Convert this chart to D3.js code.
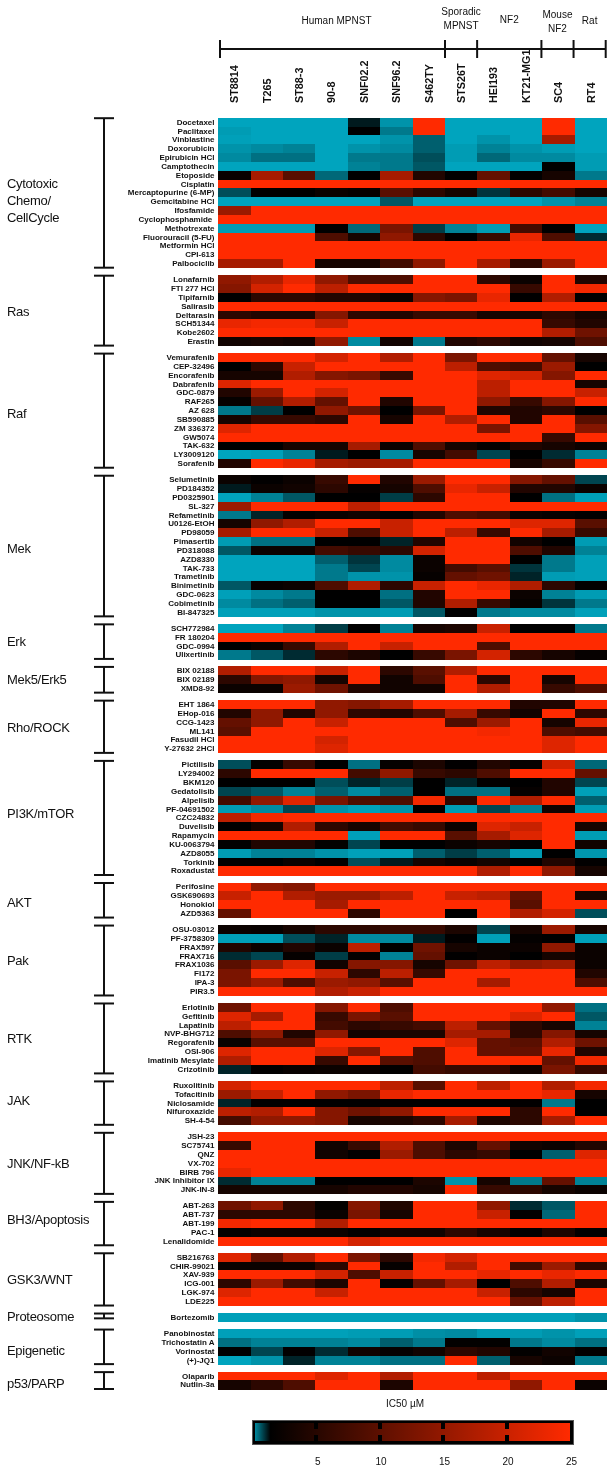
<!DOCTYPE html>
<html>
<head>
<meta charset="utf-8">
<script src="https://cdn.jsdelivr.net/npm/d3@7"></script>
<style>
    html, body { margin: 0; padding: 0; background: #fff; }
    svg { display: block; filter: blur(0.4px); }
    rect { shape-rendering: crispEdges; }
    text { font-family: "Liberation Sans", Arial, sans-serif; fill: #111; }
    .drug text { font-size: 8px; font-weight: bold; white-space: pre; }
    .line text { font-size: 10.8px; font-weight: bold; }
</style>
</head>
<body>
<svg id="chart" width="610" height="1471"></svg>
<script>
const cellLines = ["ST8814", "T265", "ST88-3", "90-8", "SNF02.2", "SNF96.2", "S462TY", "STS26T", "HEI193", "KT21-MG1", "SC4", "RT4"]
const lineages = [["Human MPNST"], ["Sporadic", "MPNST"], ["NF2"], ["Mouse", "NF2"], ["Rat"]]
const lineageSpans = [7, 1, 2, 1, 1]
const legendTicks = [5, 10, 15, 20, 25]

const cytotoxicDrugs = ["Docetaxel", "Paclitaxel", "Vinblastine", "Doxorubicin", "Epirubicin HCl", "Camptothecin", "Etoposide", "Cisplatin", "Mercaptopurine (6-MP)", "Gemcitabine HCl", "Ifosfamide", "Cyclophosphamide ", "Methotrexate", "Fluorouracil (5-FU)", "Metformin HCl", "CPI-613", "Palbociclib"]
const cytotoxicValues = [
    [.1, .1, .1, .1, 1.7, .3, 25, .1, .1, .1, 25, .1],
    [.2, .1, .1, .1, 2, .6, 25, .1, .1, .1, 25, .1],
    [.15, .1, .1, .1, .1, .3, .9, .1, .3, .1, 17, .1],
    [.3, .4, .5, .1, .3, .4, .9, .2, .5, .3, .2, .1],
    [.4, .7, .7, .1, .6, .6, 1.1, .2, .8, .4, .4, .2],
    [.1, .1, .1, .1, .5, .6, 1, .1, .1, .1, 2, .2],
    [2.8, 17, 10, .8, 2, 17, 5, 2.2, 11, 2.2, 4, .6],
    [25, 25, 25, 25, 25, 25, 25, 25, 25, 25, 25, 25],
    [1.1, 2, 2, 3, 2.5, 10, 6, 4, 1.4, 6, 8, 4],
    [.1, .1, .1, .1, .1, 1, .1, .1, .1, .1, .3, .5],
    [16, 25, 25, 25, 25, 25, 25, 25, 25, 25, 25, 25],
    [25, 25, 25, 25, 25, 25, 25, 25, 25, 25, 25, 25],
    [.2, .2, .2, 2, .8, 13, 1.3, .5, .2, 8, 2, .1],
    [25, 25, 25, 9, 4, 15, 6, 2, 7, 23, 9, 1.5],
    [25, 25, 25, 25, 25, 25, 25, 25, 25, 25, 25, 25],
    [25, 25, 25, 25, 25, 25, 25, 25, 25, 25, 25, 25],
    [17, 17, 25, 4, 4, 8, 15, 25, 17, 6, 16, 25],
]

const rasDrugs = ["Lonafarnib", "FTI 277 HCl", "Tipifarnib", "Salirasib", "Deltarasin", "SCH51344", "Kobe2602", "Erastin"]
const rasValues = [
    [15, 18, 23, 15, 9, 9, 25, 25, 6, 3, 25, 5],
    [14, 21, 25, 19, 25, 25, 25, 25, 25, 7, 25, 24],
    [2, 6, 6, 5, 5, 3, 14, 13, 23, 2, 18, 2],
    [25, 25, 25, 25, 25, 25, 25, 25, 25, 25, 25, 25],
    [6, 5, 5, 14, 6, 5, 7, 7, 4, 4, 6, 4],
    [23, 24, 24, 20, 25, 25, 25, 25, 25, 25, 7, 5],
    [25, 25, 25, 25, 25, 25, 25, 25, 25, 25, 18, 12],
    [3.5, 4, 3.5, 15, .4, 3.5, .6, 5, 6, 3.5, 4, 9],
]

const rafDrugs = ["Vemurafenib", "CEP-32496", "Encorafenib", "Dabrafenib", "GDC-0879", "RAF265", "AZ 628", "SB590885", "ZM 336372", "GW5074", "TAK-632", "LY3009120", "Sorafenib"]
const rafValues = [
    [25, 25, 25, 21, 25, 18, 25, 13, 25, 25, 11, 4],
    [2, 6, 20, 25, 25, 25, 25, 19, 9, 8, 16, 2],
    [4, 4, 18, 14, 13, 7, 25, 25, 22, 21, 14, 25],
    [22, 25, 25, 25, 25, 25, 25, 25, 19, 25, 25, 4],
    [5, 16, 25, 21, 25, 25, 25, 25, 19, 25, 25, 20],
    [2.5, 11, 18, 11, 25, 5, 25, 25, 15, 7, 14, 25],
    [.6, 1.3, 2, 15, 12, 2, 13, 25, 5, 5, 6, 2],
    [4, 7, 7, 6, 25, 4, 25, 18, 25, 5, 25, 10],
    [22, 25, 25, 25, 25, 25, 25, 25, 13, 25, 25, 14],
    [25, 25, 25, 25, 25, 25, 25, 25, 25, 25, 7, 25],
    [2, 2, 4, 4, 17, 3, 9, 4, 2.5, 5, 4, 3],
    [.1, .15, .5, 1.7, 2, .4, 4, 8, 1.2, 2, 1.5, .5],
    [5, 25, 23, 17, 16, 17, 25, 25, 25, 4, 7, 25],
]

const mekDrugs = ["Selumetinib", "PD184352", "PD0325901", "SL-327", "Refametinib", "U0126-EtOH", "PD98059", "Pimasertib", "PD318088", "AZD8330", "TAK-733", "Trametinib", "Binimetinib", "GDC-0623", "Cobimetinib", "BI-847325"]
const mekValues = [
    [3, 2.2, 3, 7, 25, 5, 16, 25, 25, 14, 11, 1.2],
    [1.7, 3, 3.5, 6, 2.5, 4, 9, 23, 20, 5, 5, 3],
    [.1, .5, 1, 2, 2, 1.3, 6, 25, 25, 2, .7, .15],
    [16, 25, 25, 25, 19, 25, 25, 25, 25, 25, 25, 25],
    [.6, 1.6, 2.3, 3, 3.5, 2.2, 5, 9, 8, 3, 2.5, 2.2],
    [4, 15, 18, 25, 25, 20, 25, 25, 25, 22, 22, 10],
    [17, 25, 25, 20, 9, 20, 25, 19, 7, 25, 17, 7],
    [.2, .7, .7, 2, 2, 1.6, 5, 25, 25, 3.5, 2, .2],
    [1, 3, 3, 8, 7, 6, 21, 25, 25, 9, 5, .5],
    [.1, .1, .1, .9, 1.4, .4, 3, 25, 25, 2, .6, .15],
    [.1, .1, .1, .6, 1.2, .4, 3, 8, 10, 1.4, .6, .15],
    [.1, .1, .1, .6, .3, .3, 2.5, 11, 12, 1.6, .2, .15],
    [1, 2.5, 3, 9, 18, 6, 20, 25, 23, 18, 6, 2.2],
    [.15, .4, .6, 2, 2, .7, 5, 25, 25, 3, .5, .2],
    [.4, .7, .9, 2, 2, 1, 5, 18, 7, 2.5, 1.4, .6],
    [.15, .15, .15, .3, .3, .2, 1, 2, .6, .4, .4, .15],
]

const erkDrugs = ["SCH772984", "FR 180204", "GDC-0994", "Ulixertinib"]
const erkValues = [
    [.1, .1, .5, 1.3, 2, .5, 4, 4.5, 20, 2, 2, .6],
    [25, 25, 25, 25, 25, 25, 25, 25, 25, 25, 25, 25],
    [2, 3, 7, 18, 25, 20, 25, 25, 9, 25, 25, 25],
    [.6, 1, 1.5, 6, 4.5, 2, 7, 13, 21, 6, 4, 2.5],
]

const mek5Drugs = ["BIX 02188", "BIX 02189", "XMD8-92"]
const mek5Values = [
    [18, 25, 25, 20, 25, 6, 10, 18, 25, 25, 25, 25],
    [6, 14, 15, 4, 25, 3.5, 9, 25, 6, 25, 4, 25],
    [3, 3, 16, 12, 5, 3.5, 3.5, 25, 18, 25, 7, 9],
]

const rhoDrugs = ["EHT 1864", "EHop-016", "CCG-1423", "ML141", "Fasudil HCl", "Y-27632 2HCl"]
const rhoValues = [
    [25, 25, 25, 15, 14, 17, 25, 25, 25, 5, 5, 25],
    [5, 15, 5, 15, 6, 5, 9, 17, 7, 3.5, 25, 6],
    [11, 15, 25, 20, 25, 25, 25, 9, 16, 25, 4, 23],
    [10, 25, 25, 25, 25, 25, 25, 25, 24, 25, 9, 8],
    [25, 25, 25, 21, 25, 25, 25, 25, 25, 25, 22, 25],
    [25, 25, 25, 22, 25, 25, 25, 25, 25, 25, 22, 25],
]

const pi3kDrugs = ["Pictilisib", "LY294002", "BKM120", "Gedatolisib", "Alpelisib", "PF-04691502", "CZC24832", "Duvelisib", "Rapamycin", "KU-0063794", "AZD8055", "Torkinib", "Roxadustat"]
const pi3kValues = [
    [1.1, 2.3, 7, 2, .7, 2.5, 4.5, 2.2, 5, 2.5, 21, .8],
    [6, 25, 25, 25, 8, 15, 7, 6, 9, 25, 25, 11],
    [2, 2, 2, 1.1, 1.6, 1.3, 2, 1.6, 2.2, 2, 5, 1.2],
    [1.2, 1, .5, .9, .4, .9, 2, .7, .7, 2.5, 5, .15],
    [8, 15, 22, 13, 9, 9, 24, 6, 25, 18, 25, .9],
    [.2, .4, 1.2, .3, .15, .3, 2, .2, 1.2, .5, 3.5, .2],
    [19, 24, 25, 25, 25, 25, 25, 25, 25, 25, 25, 25],
    [2, 4, 18, 6, 4, 8, 7, 3, 22, 20, 25, 4],
    [25, 25, 25, 25, .15, 25, 25, 10, 17, 22, 25, .2],
    [2.2, 5, 5, 2.3, 1.2, 2, 2, 3, 4, 2.2, 25, 3.5],
    [.2, .5, .5, .3, .15, .15, .9, 1.3, .9, .2, 2, .25],
    [2, 2, 3, 2, 1.1, 1.7, 4, 3, 4, 2, 5, 2.2],
    [25, 25, 25, 25, 25, 25, 25, 25, 18, 25, 15, 4],
]

const aktDrugs = ["Perifosine", "GSK690693", "Honokiol", "AZD5363"]
const aktValues = [
    [25, 15, 14, 25, 25, 25, 25, 25, 25, 25, 25, 25],
    [20, 25, 18, 16, 16, 19, 25, 20, 19, 11, 25, 4],
    [25, 25, 25, 17, 25, 25, 25, 25, 25, 10, 25, 25],
    [11, 25, 25, 25, 6, 25, 25, 2, 25, 18, 21, 1.1],
]

const pakDrugs = ["OSU-03012", "PF-3758309", "FRAX597", "FRAX716", "FRAX1036", "FI172", "IPA-3", "PIR3.5"]
const pakValues = [
    [3, 2.7, 4, 6, 6, 7, 7, 4.5, 1.2, 4, 16, 4],
    [.15, .15, 1.1, 1.6, .4, .4, 1.7, 2.2, .15, 2.4, 2, .15],
    [5, 3, 5, 3, 19, 2, 12, 4, 3, 3, 15, 3],
    [1.5, 1.2, 2.5, 1.3, 2.5, .5, 11, 2.2, 3, 2, 4, 3],
    [10, 16, 22, 3.5, 14, 14, 4, 12, 19, 15, 16, 3],
    [13, 25, 25, 20, 6, 19, 7, 25, 25, 25, 25, 5],
    [13, 16, 9, 16, 15, 10, 25, 25, 17, 25, 25, 9],
    [25, 25, 25, 18, 20, 25, 25, 25, 25, 25, 25, 25],
]

const rtkDrugs = ["Erlotinib", "Gefitinib", "Lapatinib", "NVP-BHG712", "Regorafenib", "OSI-906", "Imatinib Mesylate", "Crizotinib"]
const rtkValues = [
    [12, 25, 25, 14, 25, 9, 25, 25, 25, 25, 15, .7],
    [22, 17, 25, 7, 13, 10, 25, 25, 25, 22, 25, 1],
    [19, 25, 25, 8, 6, 7, 8, 19, 11, 6, 4, .5],
    [9, 15, 5, 15, 3.5, 4.5, 4.5, 17, 17, 6, 14, 4],
    [3, 10, 10, 25, 25, 25, 25, 22, 11, 10, 18, 12],
    [22, 25, 25, 22, 14, 25, 9, 25, 11, 11, 23, 5],
    [18, 25, 25, 7, 25, 10, 9, 25, 25, 25, 11, 24],
    [1.6, 2.2, 2.7, 3, 2.8, 2.2, 8, 7, 7, 3.5, 13, 7],
]

const jakDrugs = ["Ruxolitinib", "Tofacitinib", "Niclosamide", "Nifuroxazide", "SH-4-54"]
const jakValues = [
    [21, 25, 25, 25, 25, 19, 10, 25, 19, 25, 18, 24],
    [16, 20, 25, 15, 13, 23, 25, 25, 25, 25, 23, 4],
    [1.6, 2.2, 2.2, 2.2, 2.2, 2.2, 2.2, 2.2, 2.2, 2.2, .6, 2],
    [19, 18, 25, 14, 12, 15, 25, 25, 25, 6, 25, 2],
    [8, 15, 15, 14, 4, 4.5, 6, 17, 4.5, 6, 17, 25],
]

const jnkDrugs = ["JSH-23", "SC75741", "QNZ", "VX-702", "BIRB 796", "JNK Inhibitor IX", "JNK-IN-8"]
const jnkValues = [
    [25, 25, 25, 25, 25, 25, 25, 25, 25, 25, 25, 25],
    [7, 25, 25, 3.5, 7, 18, 9, 4.5, 11, 3.5, 3, 5],
    [25, 25, 25, 3.5, 2.2, 16, 9, 6, 7, 2, .9, 22],
    [25, 25, 25, 25, 25, 25, 25, 25, 25, 25, 25, 25],
    [23, 25, 25, 25, 25, 25, 25, 25, 25, 25, 25, 25],
    [1.5, .5, .5, 2, 2, 2, 4.5, .3, 4, .6, 11, .5],
    [4, 4, 4, 4, 5, 5, 4, 25, 7, 6, 4, 3],
]

const bh3Drugs = ["ABT-263", "ABT-737", "ABT-199", "PAC-1", "Lenalidomide"]
const bh3Values = [
    [12, 15, 6, 2.3, 14, 5, 25, 25, 15, 1.5, 1, 25],
    [6, 6, 6, 3, 13, 4, 25, 25, 20, 2.2, .8, 25],
    [24, 25, 25, 18, 25, 25, 25, 25, 25, 25, 25, 25],
    [2.3, 3, 3, 3, 2, 3.5, 3.5, 6, 4, 2, 4.5, 2.2],
    [25, 25, 25, 25, 21, 25, 25, 25, 25, 25, 25, 25],
]

const gskDrugs = ["SB216763", "CHIR-99021", "XAV-939", "ICG-001", "LGK-974", "LDE225"]
const gskValues = [
    [22, 11, 18, 25, 13, 6, 24, 21, 25, 25, 25, 25],
    [3, 3, 3, 6, 25, 2.5, 25, 18, 25, 8, 16, 6],
    [25, 25, 25, 21, 9, 20, 25, 25, 23, 25, 23, 25],
    [6, 16, 8, 4.5, 25, 2.5, 11, 17, 2, 9, 18, 4.5],
    [22, 25, 25, 20, 25, 25, 25, 25, 20, 6, 4, 25],
    [25, 25, 25, 25, 25, 25, 25, 25, 25, 11, 19, 25],
]

const proteosomeDrugs = ["Bortezomib"]
const proteosomeValues = [
    [.15, .15, .15, .15, .15, .15, .15, .15, .15, .15, .15, .3],
]

const epigeneticDrugs = ["Panobinostat", "Trichostatin A", "Vorinostat", "(+)-JQ1"]
const epigeneticValues = [
    [.15, .15, .15, .15, .2, .2, .35, .4, .2, .2, .3, .15],
    [.7, .5, .5, .5, .4, .9, .6, 2.3, 2.3, .6, .4, .7],
    [2, 1.2, 2.2, 1.5, 3.5, 2.5, 3.5, 6, 5, 2.3, 3.5, 2.2],
    [.1, .3, 1.6, .5, .5, .7, .7, 25, .9, 4, 3, .6],
]

const p53Drugs = ["Olaparib", "Nutlin-3a"]
const p53Values = [
    [25, 25, 25, 22, 25, 18, 25, 25, 19, 25, 25, 25],
    [4, 6, 9, 25, 25, 4.5, 25, 25, 25, 15, 25, 3],
]

const groupNames = [["Cytotoxic", "Chemo/", "CellCycle"], ["Ras"], ["Raf"], ["Mek"], ["Erk"], ["Mek5/Erk5"], ["Rho/ROCK"], ["PI3K/mTOR"], ["AKT"], ["Pak"], ["RTK"], ["JAK"], ["JNK/NF-kB"], ["BH3/Apoptosis"], ["GSK3/WNT"], ["Proteosome"], ["Epigenetic"], ["p53/PARP"]]
const groupDrugs = [cytotoxicDrugs, rasDrugs, rafDrugs, mekDrugs, erkDrugs, mek5Drugs, rhoDrugs, pi3kDrugs, aktDrugs, pakDrugs, rtkDrugs, jakDrugs, jnkDrugs, bh3Drugs, gskDrugs, proteosomeDrugs, epigeneticDrugs, p53Drugs]
const groupValues = [cytotoxicValues, rasValues, rafValues, mekValues, erkValues, mek5Values, rhoValues, pi3kValues, aktValues, pakValues, rtkValues, jakValues, jnkValues, bh3Values, gskValues, proteosomeValues, epigeneticValues, p53Values]

// layout
const rowHeight = 8.84
const groupGap = 7.2
const firstTop = 117.7
const labelShift = [7.5, 1, 3, 3, 0, 0, 1, -4, 2, 0, 0, -3, 0, -4, 0, -1, 3.5, 3]
const lineageShift = [[4, 20.7], [0, 18.7], [0, 19], [0, 21.5], [0, 20.7]]

const svg = d3.select("#chart")

const x = d3.scaleBand(cellLines, [218.3, 607])
// teal at the very low end, black around 2 uM, then up to full red
const color = d3.scaleLinear([0, 2, 25], ["#00adc8", "#000000", "#ff2a00"])
// the printed key fades out of teal a little sooner than the cells do
const keyColor = d3.scaleLinear([0.2, 1.4, 25], [color(0.45), "#000000", color(25)])

// column labels
svg.append("g")
    .attr("class", "line")
    .selectAll("text")
    .data(cellLines)
    .join("text")
    .attr("transform", d => `translate(${x(d) + x.bandwidth() / 2 + 3.8}, 103) rotate(-90)`)
    .text(d => d)

// lineage bracket on top
const spanEdges = d3.cumsum([0, ...lineageSpans])
const lineageX = d3.scaleLinear([0, 12], [220, 605.7])
const header = svg.append("g").attr("stroke", "#111").attr("stroke-width", 2)
header.append("line")
    .attr("x1", lineageX(0)).attr("x2", lineageX(12))
    .attr("y1", 49).attr("y2", 49)
header.selectAll(".edge")
    .data(spanEdges)
    .join("line")
    .attr("class", "edge")
    .attr("x1", d => lineageX(d)).attr("x2", d => lineageX(d))
    .attr("y1", 40).attr("y2", 58)

const lineageLabels = svg.append("g")
    .attr("text-anchor", "middle")
    .attr("font-size", 10)
    .selectAll("text")
    .data(lineages)
    .join("text")
    .attr("x", (d, i) => lineageX(spanEdges[i] + lineageSpans[i] / 2) + lineageShift[i][0])
    .attr("y", (d, i) => lineageShift[i][1] + 3.5 - (d.length - 1) * 7.2)
lineageLabels.selectAll("tspan")
    .data(d => d)
    .join("tspan")
    .attr("x", function () { return this.parentNode.getAttribute("x") })
    .attr("dy", (d, i) => i ? 14.4 : 0)
    .text(d => d)

// one block per drug class
let blockTop = firstTop
groupNames.forEach((name, g) => {
    const drugs = groupDrugs[g]
    const values = groupValues[g]
    const blockBottom = blockTop + drugs.length * rowHeight
    const y = d3.scaleBand(drugs, [blockTop, blockBottom])

    const block = svg.append("g")
    block.selectAll("g")
        .data(values)
        .join("g")
        .attr("transform", (d, i) => `translate(0, ${y(drugs[i])})`)
        .selectAll("rect")
        .data(d => d)
        .join("rect")
        .attr("x", (d, i) => x(cellLines[i]))
        .attr("width", x.bandwidth() + 0.3)
        .attr("height", y.bandwidth() + 0.3)
        .attr("fill", d => color(d))

    svg.append("g")
        .attr("class", "drug")
        .attr("transform", "translate(214.5, 0)")
        .call(d3.axisLeft(y).tickSize(0).tickPadding(0))
        .call(a => a.select(".domain").remove())

    // class bracket
    const single = drugs.length === 1
    const y0 = blockTop + 0.5
    const y1 = blockBottom - (single ? 3.5 : 0.3)
    const bracket = svg.append("g").attr("stroke", "#111").attr("stroke-width", 2)
    bracket.append("line").attr("x1", 104).attr("x2", 104).attr("y1", y0).attr("y2", y1)
    bracket.selectAll(".cap")
        .data([y0, y1])
        .join("line")
        .attr("class", "cap")
        .attr("x1", 94).attr("x2", 114)
        .attr("y1", d => d).attr("y2", d => d)

    // class name, left of the bracket
    const mid = (blockTop + blockBottom) / 2 + labelShift[g]
    svg.append("g")
        .attr("font-size", 13)
        .attr("letter-spacing", -0.3)
        .selectAll("text")
        .data(name)
        .join("text")
        .attr("x", 7)
        .attr("y", (d, i) => mid + 4.5 + (i - (name.length - 1) / 2) * 17.3)
        .text(d => d)

    blockTop = blockBottom + groupGap
})

// colour key
svg.append("text")
    .attr("x", 405).attr("y", 1407)
    .attr("text-anchor", "middle")
    .attr("font-size", 10)
    .text("IC50 \u00b5M")

const legendX = d3.scaleLinear([0, 25], [252.7, 570])
const gradient = svg.append("defs").append("linearGradient")
    .attr("id", "key")
    .attr("gradientUnits", "userSpaceOnUse")
    .attr("x1", legendX(0)).attr("x2", legendX(25))
    .attr("y1", 0).attr("y2", 0)
gradient.selectAll("stop")
    .data(keyColor.domain())
    .join("stop")
    .attr("offset", d => d / 25)
    .attr("stop-color", d => keyColor(d))

svg.append("rect")
    .attr("x", 252).attr("y", 1420)
    .attr("width", 321.5).attr("height", 24)
    .attr("fill", "#000")
    .attr("stroke", "#555").attr("stroke-width", 1)
svg.append("rect")
    .attr("x", 255).attr("y", 1422.7)
    .attr("width", 315).attr("height", 18.3)
    .attr("fill", "url(#key)")

const keyNotches = svg.append("g").attr("fill", "#000")
keyNotches.selectAll(".top")
    .data(legendTicks.slice(0, -1))
    .join("rect")
    .attr("class", "top")
    .attr("x", d => legendX(d) - 2).attr("y", 1422.7)
    .attr("width", 4).attr("height", 6)
keyNotches.selectAll(".bottom")
    .data(legendTicks.slice(0, -1))
    .join("rect")
    .attr("class", "bottom")
    .attr("x", d => legendX(d) - 2).attr("y", 1434.5)
    .attr("width", 4).attr("height", 6.5)

svg.append("g")
    .attr("transform", "translate(1, 1452)")
    .call(d3.axisBottom(legendX).tickValues(legendTicks).tickSize(0).tickPadding(6))
    .call(a => a.select(".domain").remove())
    .call(a => a.selectAll("text").attr("font-size", 10).attr("font-family", null))
</script>
</body>
</html>
